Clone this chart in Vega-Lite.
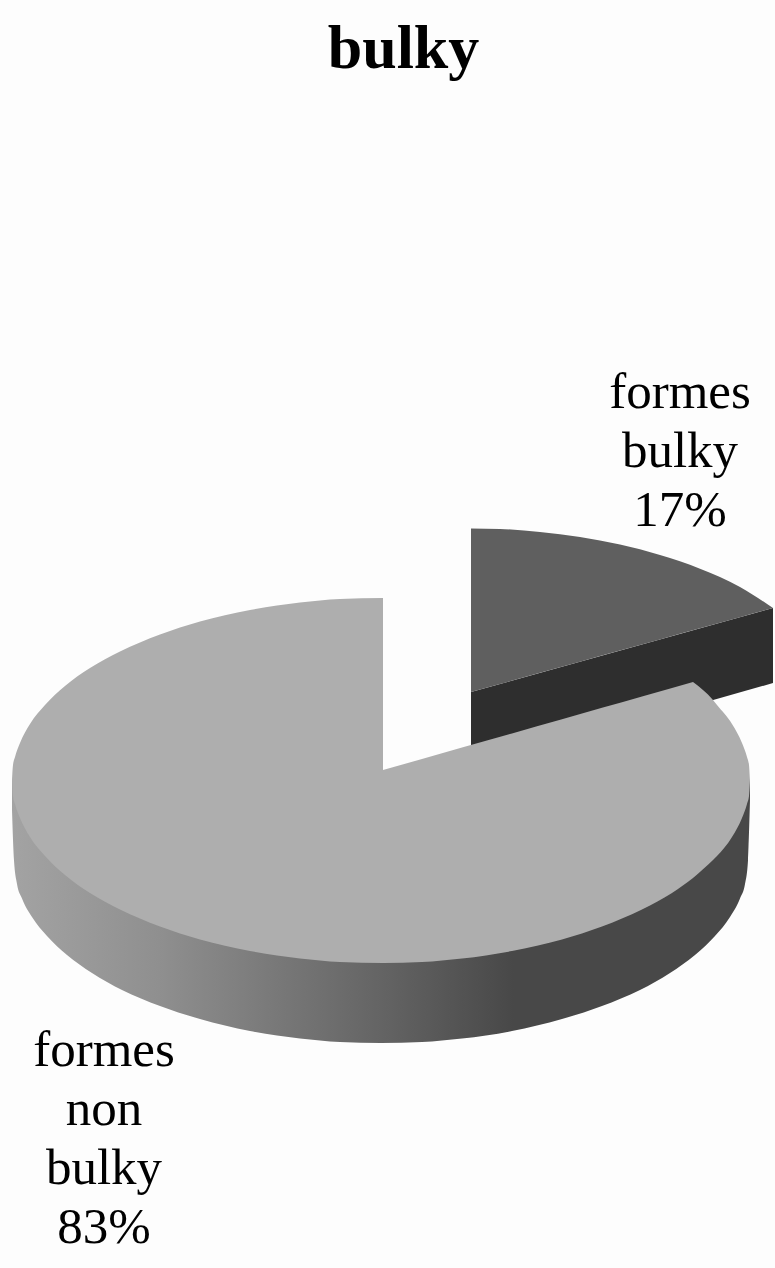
{
"$schema":"https://vega.github.io/schema/vega-lite/v6.json",
"width":775,"height":1268,"padding":0,"autosize":"none","background":"#fdfdfd",
"title":{"text":"bulky","font":"Liberation Serif","fontSize":62,"fontWeight":"bold","color":"#000000","anchor":"middle","baseline":"alphabetic","dx":16,"dy":62,"offset":-68},
"view":{"stroke":null},
"datasets":{
"wedgeSide":[{"x":471,"y":692,"y2":769},{"x":773,"y":608,"y2":683}],
"wedgeTop":[{"x":471,"y":528.5,"y2":692},{"x":500,"y":529,"y2":684},{"x":540,"y":532,"y2":672.8},{"x":580,"y":537,"y2":661.7},{"x":620,"y":544.5,"y2":650.6},{"x":660,"y":555,"y2":639.4},{"x":700,"y":568.7,"y2":628.3},{"x":740,"y":587,"y2":617.2},{"x":773,"y":608,"y2":608}],
"mainSide":[{"x":12,"y":810,"y2":780},{"x":14,"y":860.5,"y2":780},{"x":17,"y":884,"y2":780},{"x":22,"y":898.5,"y2":780},{"x":32,"y":917,"y2":780},{"x":47,"y":936,"y2":780},{"x":67,"y":955,"y2":780},{"x":92,"y":973,"y2":780},{"x":122,"y":990,"y2":780},{"x":160,"y":1006,"y2":780},{"x":200,"y":1019,"y2":780},{"x":250,"y":1031,"y2":780},{"x":300,"y":1038.5,"y2":780},{"x":340,"y":1042,"y2":780},{"x":381,"y":1043,"y2":780},{"x":422,"y":1042,"y2":780},{"x":462,"y":1038.5,"y2":780},{"x":512,"y":1031,"y2":780},{"x":562,"y":1019,"y2":780},{"x":602,"y":1006,"y2":780},{"x":640,"y":990,"y2":780},{"x":670,"y":973,"y2":780},{"x":695,"y":955,"y2":780},{"x":715,"y":936,"y2":780},{"x":730,"y":917,"y2":780},{"x":740,"y":898.5,"y2":780},{"x":745,"y":884,"y2":780},{"x":748,"y":860.5,"y2":780},{"x":750,"y":800,"y2":780}],
"mainLeft":[{"x":12,"y":780.5,"y2":780.5},{"x":13,"y":765,"y2":796},{"x":15,"y":757,"y2":804},{"x":20,"y":743,"y2":818},{"x":30,"y":724,"y2":837},{"x":45,"y":705,"y2":856},{"x":65,"y":686,"y2":875},{"x":90,"y":668,"y2":893},{"x":120,"y":651.5,"y2":909.5},{"x":160,"y":634.5,"y2":926.5},{"x":200,"y":621.5,"y2":939.5},{"x":250,"y":610,"y2":951},{"x":300,"y":602.5,"y2":958.5},{"x":340,"y":599,"y2":962},{"x":383,"y":598,"y2":963}],
"mainMiddle":[{"x":383,"y":770,"y2":963},{"x":422,"y":759,"y2":962},{"x":462,"y":747.6,"y2":958.5},{"x":512,"y":733.4,"y2":951},{"x":562,"y":719.2,"y2":939.5},{"x":602,"y":707.8,"y2":926.5},{"x":642,"y":696.5,"y2":909.5},{"x":672,"y":688,"y2":893},{"x":693,"y":682,"y2":878}],
"mainRight":[{"x":693,"y":682,"y2":878},{"x":713,"y":700,"y2":860},{"x":717,"y":705,"y2":856},{"x":732,"y":724,"y2":837},{"x":742,"y":743,"y2":818},{"x":747,"y":757,"y2":804},{"x":749,"y":765,"y2":796},{"x":750,"y":780.5,"y2":780.5}],
"labels":[{"text":"formes","x":680,"y":408},{"text":"bulky","x":680,"y":467},{"text":"17%","x":680,"y":526},{"text":"formes","x":104,"y":1066},{"text":"non","x":104,"y":1125},{"text":"bulky","x":104,"y":1184},{"text":"83%","x":104,"y":1243}]
},
"encoding":{
"x":{"field":"x","type":"quantitative","scale":{"domain":[0,775],"nice":false,"zero":false},"axis":null},
"y":{"field":"y","type":"quantitative","scale":{"domain":[1268,0],"nice":false,"zero":false},"axis":null}
},
"layer":[
{"data":{"name":"wedgeSide"},"mark":{"type":"area","color":"#2e2e2e"},"encoding":{"y2":{"field":"y2"}}},
{"data":{"name":"wedgeTop"},"mark":{"type":"area","color":"#5f5f5f","interpolate":"monotone"},"encoding":{"y2":{"field":"y2"}}},
{"data":{"name":"mainSide"},"mark":{"type":"area","interpolate":"monotone","color":{"gradient":"linear","x1":0,"y1":0,"x2":1,"y2":0,"stops":[{"offset":0,"color":"#a3a3a3"},{"offset":0.2,"color":"#8f8f8f"},{"offset":0.5,"color":"#646464"},{"offset":0.68,"color":"#484848"},{"offset":1,"color":"#484848"}]}},"encoding":{"y2":{"field":"y2"}}},
{"data":{"name":"mainLeft"},"mark":{"type":"area","color":"#aeaeae","interpolate":"monotone"},"encoding":{"y2":{"field":"y2"}}},
{"data":{"name":"mainMiddle"},"mark":{"type":"area","color":"#aeaeae","interpolate":"monotone"},"encoding":{"y2":{"field":"y2"}}},
{"data":{"name":"mainRight"},"mark":{"type":"area","color":"#aeaeae","interpolate":"monotone"},"encoding":{"y2":{"field":"y2"}}},
{"data":{"name":"labels"},"mark":{"type":"text","font":"Liberation Serif","fontSize":51,"color":"#000000","align":"center","baseline":"alphabetic"},"encoding":{"text":{"field":"text"}}}
]
}
